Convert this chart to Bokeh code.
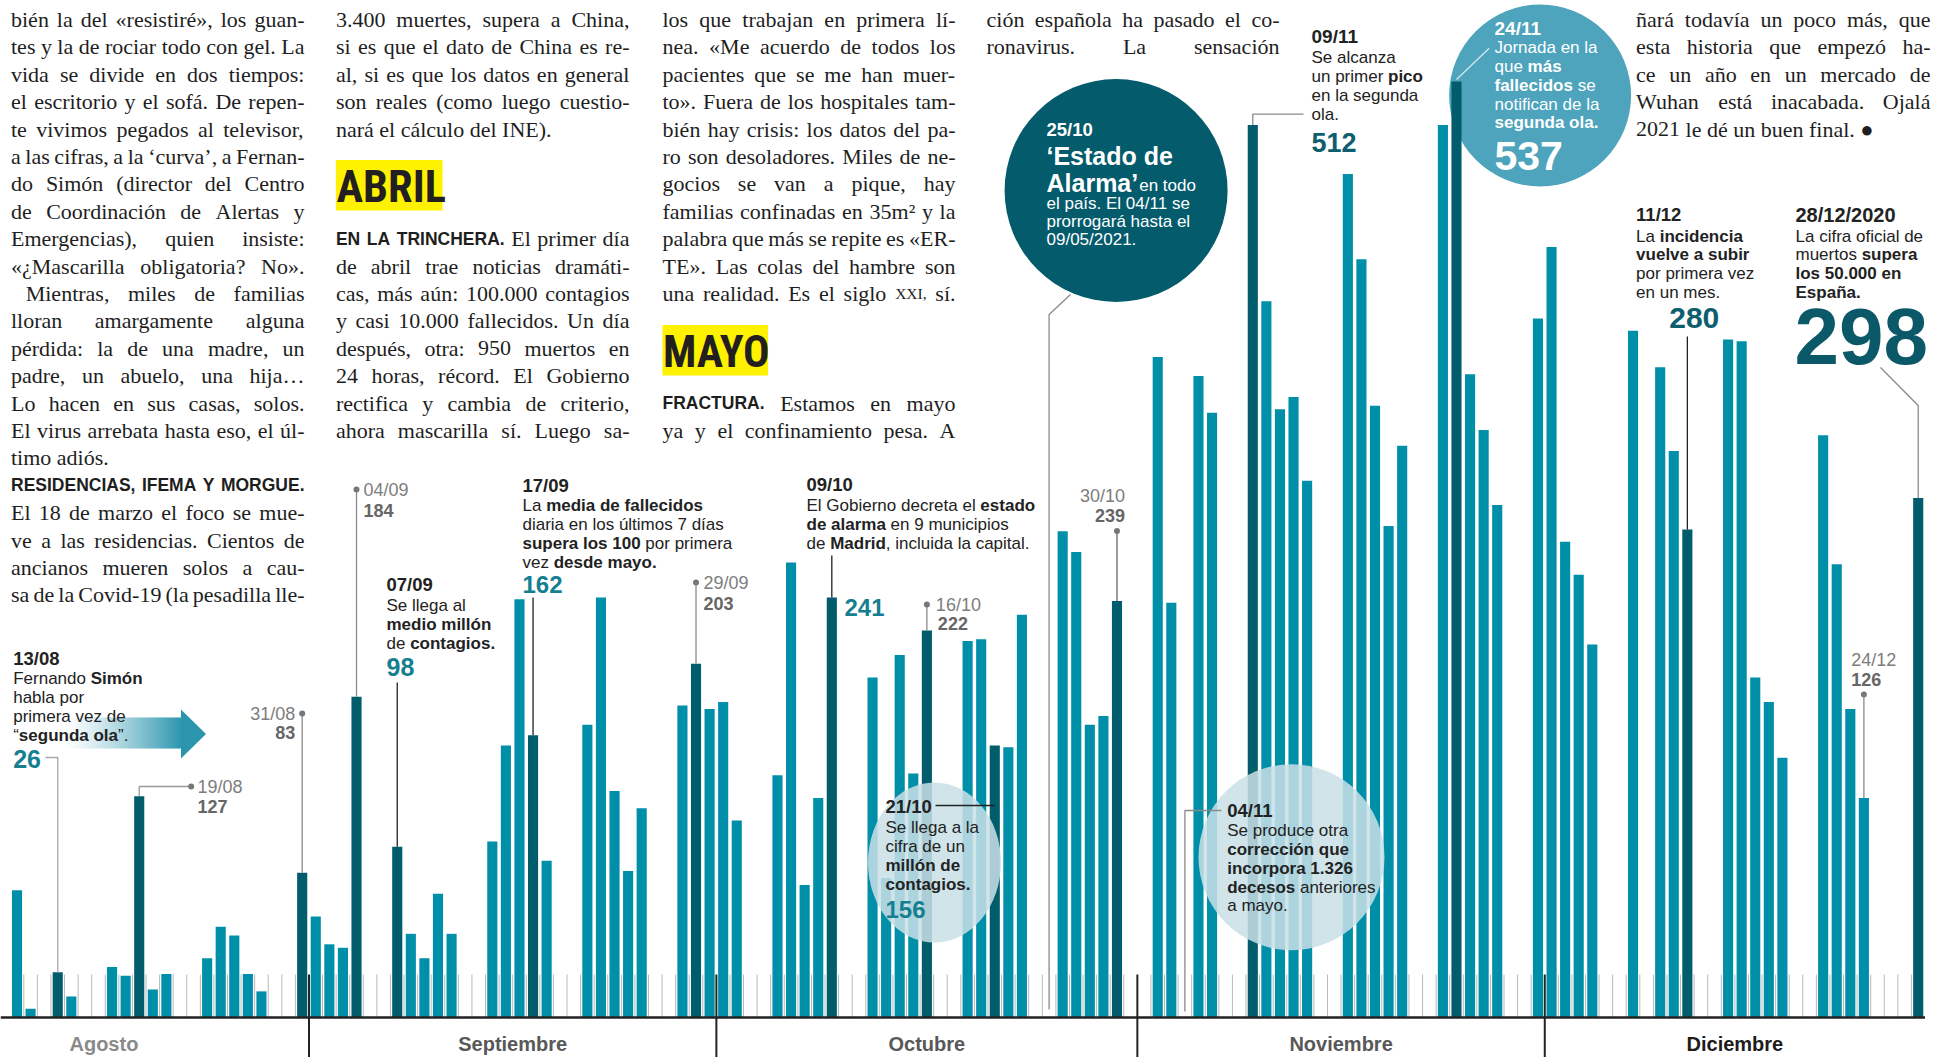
import unicodedata
import pandas as pd
from bokeh.plotting import figure
from bokeh.models import Range1d, ColumnDataSource
from bokeh.core.properties import field
from bokeh.embed import file_html
from bokeh.resources import INLINE

# ---------------------------------------------------------------- DATA
fechas = pd.date_range("2020-08-10", "2020-12-28", freq="D")
fallecidos = [
    # agosto (10-31)
    73, 5, 0, 26, 12, 0, 0, 29, 24, 127, 16, 25, 0, 0, 34, 52, 47, 25, 15, 0, 0, 83,
    # septiembre
    58, 42, 40, 184, 0, 0, 98, 48, 34, 71, 48, 0, 0, 101, 156, 240, 162, 90, 0, 0,
    168, 241, 130, 84, 120, 0, 0, 179, 203, 177,
    # octubre
    181, 113, 0, 0, 139, 261, 76, 126, 241, 0, 0, 195, 80, 208, 140, 222, 0, 0,
    216, 217, 156, 155, 231, 0, 0, 279, 267, 168, 173, 239, 0,
    # noviembre
    0, 379, 238, 0, 368, 347, 0, 0, 512, 411, 349, 356, 308, 0, 0, 484, 435, 351,
    282, 328, 0, 0, 512, 537, 369, 337, 294, 0, 0, 401,
    # diciembre (1-28)
    442, 273, 254, 214, 0, 0, 394, 0, 373, 325, 280, 0, 0, 389, 388, 195, 181, 149,
    0, 0, 334, 260, 177, 126, 0, 0, 0, 298,
]
destacados = ["2020-08-13", "2020-08-19", "2020-08-31", "2020-09-04", "2020-09-07",
              "2020-09-17", "2020-09-29", "2020-10-09", "2020-10-16", "2020-10-21",
              "2020-10-30", "2020-11-09", "2020-11-24", "2020-12-11", "2020-12-28"]
meses = ["Agosto", "Septiembre", "Octubre", "Noviembre", "Diciembre"]
inicio_meses = ["2020-08-01", "2020-09-01", "2020-10-01", "2020-11-01", "2020-12-01"]
fin_meses = ["2020-09-01", "2020-10-01", "2020-11-01", "2020-12-01", "2020-12-29"]
color_meses = ["#8a8a8a", "#585858", "#585858", "#585858", "#1c1c1c"]

# ---------------------------------------------------------------- LAYOUT
W, H, M = 1946, 1057, 0
ORIG, PXD = -112.5, 13.58      # page x = ORIG + day * PXD
BASE, PXV = 1017.0, 1.743      # page y = BASE - deaths * PXV
TEAL, DARK = "#008FA8", "#015C6C"
HL, HL2, HL3 = "#157F91", "#0D5E6E", "#0B5868"
INK, GDATE, GNUM = "#222222", "#7d7d7d", "#666666"
SERIF, SANS = "Liberation Serif", "Liberation Sans"
HEAD = "Roboto Condensed"
BODY = 22

d0 = pd.Timestamp("2020-08-01")
def dia(f):
    return (pd.Timestamp(f) - d0).days
def X(d):
    return ORIG + d * PXD
def Y(v):
    return BASE - v * PXV

claves = list(fechas.strftime("%Y-%m-%d"))
valores = dict(zip(claves, fallecidos))

p = figure(width=W, height=H,
           x_range=Range1d((M - ORIG) / PXD, (M + W - ORIG) / PXD),
           y_range=Range1d((BASE - (M + H)) / PXV, (BASE - M) / PXV),
           x_axis_type=None, y_axis_type=None, output_backend="svg",
           toolbar_location=None, min_border=0)
p.extra_x_ranges = {"px": Range1d(M, M + W)}
p.extra_y_ranges = {"py": Range1d(M + H, M)}
p.outline_line_color = None
p.background_fill_color = "white"
p.border_fill_color = "white"
PX = dict(x_range_name="px", y_range_name="py")

# ---------------------------------------------------------------- metrics
def _t(lo, up, dig, extra):
    t = dict(zip("abcdefghijklmnopqrstuvwxyz", lo))
    t.update(zip("ABCDEFGHIJKLMNOPQRSTUVWXYZ", up))
    t.update({c: dig for c in "0123456789"})
    t.update(extra)
    return t
TIMES = _t([444,500,444,500,444,333,500,500,278,278,500,278,778,500,500,500,500,333,389,278,500,500,722,500,500,444],
           [722,667,667,722,611,556,722,722,333,389,722,611,889,722,722,556,722,667,556,611,722,722,944,722,722,611],
           500, {" ":250, ".":250, ",":250, ":":278, ";":278, "-":333, "(":333, ")":333, "«":500, "»":500,
                 "¿":444, "?":444, "‘":333, "’":333, "“":444, "”":444, "²":300, "●":600, "…":1000, "/":278})
ARIAL = _t([556,556,500,556,556,278,556,556,222,222,500,222,833,556,556,556,556,333,500,278,556,500,722,500,500,500],
           [667,667,722,722,667,611,778,722,278,500,667,556,833,722,778,667,778,722,667,611,722,667,944,667,667,611],
           556, {" ":278, ".":278, ",":278, ":":278, ";":278, "-":333, "(":333, ")":333, "/":278,
                 "‘":222, "’":222, "“":333, "”":333, "?":556})
ARIALB = _t([556,611,556,611,556,333,611,611,278,278,556,278,889,611,611,611,611,389,556,333,611,556,778,556,556,500],
            [722,722,722,722,667,611,778,722,278,556,722,611,833,722,778,667,778,722,667,611,722,667,944,667,667,611],
            556, {" ":278, ".":278, ",":278, ":":333, ";":333, "-":333, "(":333, ")":333, "/":278,
                  "‘":278, "’":278, "“":500, "”":500, "?":611})

def tw(s, tbl, size):
    tot = 0
    for c in s:
        w = tbl.get(c)
        if w is None:
            w = tbl.get(unicodedata.normalize("NFD", c)[0], 556)
        tot += w
    return tot * size / 1000.0

mid_items, body_items = [], []
def put(lst, x, y, text, size, bold, color, font):
    lst.append(dict(x=x, y=y, text=text, font=font, size="%.1fpx" % size,
                    style="bold" if bold else "normal", color=color))

def rich(x, y, segs, size, color=INK, align="left"):
    """segs: (text, bold) or (text, bold, size)"""
    segs = [(s[0], s[1], s[2] if len(s) > 2 else size) for s in segs]
    total = sum(tw(t, ARIALB if b else ARIAL, sz) for t, b, sz in segs)
    if align == "right":
        x -= total
    elif align == "center":
        x -= total / 2
    for t, b, sz in segs:
        tbl = ARIALB if b else ARIAL
        lead = len(t) - len(t.lstrip(" "))
        x += lead * tbl[" "] * sz / 1000.0
        core = t.strip(" ")
        put(mid_items, x, y, core, sz, b, color, SANS)
        x += tw(t.lstrip(" "), tbl, sz)

STY = {"serif": (TIMES, BODY, False, SERIF), "sansb": (ARIALB, 17.5, True, SANS),
       "small": (TIMES, 15.5, False, SERIF)}
def justify(x0, x1, yb, segs, just=True, indent=0):
    if isinstance(segs, str):
        segs = [(segs, "serif")]
    words = []
    for t, st in segs:
        for w in t.split(" "):
            if w:
                words.append((w, st))
    ws = [tw(w, STY[st][0], STY[st][1]) for w, st in words]
    x = x0 + indent
    gap = (x1 - x - sum(ws)) / (len(words) - 1) if (just and len(words) > 1) else 0.25 * BODY
    for (w, st), wd in zip(words, ws):
        tbl, sz, b, font = STY[st]
        put(body_items, x, yb, w, sz, b, "#1e1e1e", font)
        x += wd + gap

lines_x, lines_y, lines_c = [], [], []
def lead(xs, ys, color):
    lines_x.append(xs); lines_y.append(ys); lines_c.append(color)
dots_x, dots_y = [], []

# ---------------------------------------------------------------- background circles
p.ellipse(x=[1115.6], y=[190], width=[223], height=[223], fill_color="#045B6C", line_color=None, **PX)
p.ellipse(x=[1539.6], y=[95], width=[182], height=[182], fill_color="#4DA4BC", line_color=None, **PX)

# gradient arrow (13/08)
AR = (44, 150, 174)
n = 40
xa0, xa1 = 62.0, 181.0
lefts, rights, cols = [], [], []
for k in range(n):
    t = ((k + 0.5) / n) ** 1.3
    c = tuple(int(round(255 + (a - 255) * t)) for a in AR)
    lefts.append(xa0 + (xa1 - xa0) * k / n)
    rights.append(xa0 + (xa1 - xa0) * (k + 1) / n + 0.6)
    cols.append("#%02x%02x%02x" % c)
p.quad(left=lefts, right=rights, top=[717] * n, bottom=[748] * n, fill_color=cols, line_color=None, **PX)
p.patch([180.5, 205.5, 180.5], [709, 733.5, 758], fill_color="#2A95AD", line_color=None, **PX)

# ---------------------------------------------------------------- axis furniture
TICK_H = 43 / PXV
limites = [dia(f) for f in fin_meses[:-1]]
ticks = [dia(f) for f in claves[1:] if dia(f) not in limites]
p.segment(x0=ticks, y0=[0] * len(ticks), x1=ticks, y1=[TICK_H] * len(ticks),
          line_color="#b8b8b8", line_width=1)

# bars
xs = [dia(f) + 0.5 for f in claves]
colors = [DARK if f in destacados else TEAL for f in claves]
src = ColumnDataSource(dict(x=xs, top=fallecidos, color=colors))
p.vbar(x="x", top="top", bottom=0, width=0.745, fill_color="color", line_color=None, source=src)

# translucent highlight circles
p.ellipse(x=[934], y=[862], width=[133], height=[160], fill_color="#C8E0E7", fill_alpha=0.86,
          line_color=None, **PX)
p.ellipse(x=[1291], y=[856.7], width=[186], height=[186], fill_color="#C8E0E7", fill_alpha=0.86,
          line_color=None, **PX)

ybot = p.y_range.start
p.segment(x0=limites, y0=[TICK_H] * 4, x1=limites, y1=[ybot] * 4, line_color="#222222", line_width=2)
p.segment(x0=[p.x_range.start], y0=[0], x1=[dia(fin_meses[-1])], y1=[0], line_color="#222222", line_width=2.5)

# month labels
lab_pos = [15.9] + [(dia(a) + dia(b)) / 2 for a, b in zip(inicio_meses[1:], fin_meses[1:])]
for m, d, c in zip(meses, lab_pos, color_meses):
    rich(X(d), 1043, [(m, True)], 20, c, align="center")

# ---------------------------------------------------------------- annotations
S = 17
def cx(f):
    return X(dia(f) + 0.5)

# 13/08
f = "2020-08-13"
rich(12.7, 658, [("13/08", True)], 18.5)
rich(12.7, 678, [("Fernando ", False), ("Simón", True)], S)
rich(12.7, 697, [("habla por", False)], S)
rich(12.7, 716, [("primera vez de", False)], S)
rich(12.7, 735, [("“", False), ("segunda ola", True), ("”.", False)], S)
rich(12.7, 758, [(str(valores[f]), True)], 25, HL)
lead([45, cx(f), cx(f)], [757, 757, Y(valores[f])], "#a8a8a8")

# 19/08
f = "2020-08-19"
rich(197, 786, [("19/08", False)], 18, GDATE)
rich(197, 806, [(str(valores[f]), True)], 18, GNUM)
lead([190.7, cx(f), cx(f)], [786, 786, Y(valores[f])], "#999999")
dots_x.append(190.7); dots_y.append(786)

# 31/08
f = "2020-08-31"
rich(cx(f) - 7, 713, [("31/08", False)], 18, GDATE, align="right")
rich(cx(f) - 7, 732, [(str(valores[f]), True)], 18, GNUM, align="right")
lead([cx(f), cx(f)], [713, Y(valores[f])], "#8a8a8a")
dots_x.append(cx(f)); dots_y.append(713)

# 04/09
f = "2020-09-04"
rich(cx(f) + 7, 489, [("04/09", False)], 18, GDATE)
rich(cx(f) + 7, 509.5, [(str(valores[f]), True)], 18, GNUM)
lead([cx(f), cx(f)], [489, Y(valores[f])], "#8a8a8a")
dots_x.append(cx(f)); dots_y.append(489)

# 07/09
f = "2020-09-07"
rich(386, 584, [("07/09", True)], 18.5)
rich(386, 605, [("Se llega al", False)], S)
rich(386, 624, [("medio millón", True)], S)
rich(386, 643, [("de ", False), ("contagios.", True)], S)
rich(386, 666, [(str(valores[f]), True)], 25, HL)
lead([cx(f), cx(f)], [682, Y(valores[f])], INK)

# 17/09
f = "2020-09-17"
rich(522, 485, [("17/09", True)], 18.5)
rich(522, 505, [("La ", False), ("media de fallecidos", True)], S)
rich(522, 524, [("diaria en los últimos 7 días", False)], S)
rich(522, 543, [("supera los 100", True), (" por primera", False)], S)
rich(522, 562, [("vez ", False), ("desde mayo.", True)], S)
rich(522, 584, [(str(valores[f]), True)], 24, HL)
lead([cx(f), cx(f)], [597, Y(valores[f])], INK)

# 29/09
f = "2020-09-29"
rich(cx(f) + 7.5, 582, [("29/09", False)], 18, GDATE)
rich(cx(f) + 7.5, 603, [(str(valores[f]), True)], 18, GNUM)
lead([cx(f), cx(f)], [582, Y(valores[f])], "#8a8a8a")
dots_x.append(cx(f)); dots_y.append(582)

# 09/10
f = "2020-10-09"
rich(806, 484, [("09/10", True)], 18.5)
rich(806, 505, [("El Gobierno decreta el ", False), ("estado", True)], S)
rich(806, 524, [("de alarma", True), (" en 9 municipios", False)], S)
rich(806, 543, [("de ", False), ("Madrid", True), (", incluida la capital.", False)], S)
rich(844, 607, [(str(valores[f]), True)], 24, HL)
lead([cx(f), cx(f)], [555, Y(valores[f])], INK)

# 16/10
f = "2020-10-16"
rich(cx(f) + 9, 604, [("16/10", False)], 18, GDATE)
rich(cx(f) + 11, 623, [(str(valores[f]), True)], 18, GNUM)
lead([cx(f), cx(f)], [604, Y(valores[f])], "#8a8a8a")
dots_x.append(cx(f)); dots_y.append(604)

# 21/10
f = "2020-10-21"
rich(885, 806, [("21/10", True)], 18.5)
rich(885, 827, [("Se llega a la", False)], S)
rich(885, 846, [("cifra de un", False)], S)
rich(885, 865, [("millón de", True)], S)
rich(885, 884, [("contagios.", True)], S)
rich(885, 909, [(str(valores[f]), True)], 24, HL)
lead([935, cx(f)], [805, 805], INK)

# 25/10
x25 = cx("2020-10-25")
rich(1046, 129, [("25/10", True)], 18.5, "#ffffff")
rich(1046, 155, [("‘Estado de", True)], 25, "#ffffff")
rich(1046, 182, [("Alarma’", True)], 25, "#ffffff")
rich(1046 + tw("Alarma’", ARIALB, 25) + 1, 185, [("en todo", False)], S, "#ffffff")
rich(1046, 203, [("el país. El 04/11 se", False)], S, "#ffffff")
rich(1046, 221, [("prorrogará hasta el", False)], S, "#ffffff")
rich(1046, 239, [("09/05/2021.", False)], S, "#ffffff")
lead([1070, x25, x25], [294, 314, 1009], "#8a8a8a")

# 30/10
f = "2020-10-30"
rich(cx(f) + 8, 495, [("30/10", False)], 18, GDATE, align="right")
rich(cx(f) + 8, 515, [(str(valores[f]), True)], 18, GNUM, align="right")
lead([cx(f), cx(f)], [530.5, Y(valores[f])], "#666666")
dots_x.append(cx(f)); dots_y.append(530.5)

# 04/11
x04 = cx("2020-11-04")
rich(1226.7, 810, [("04/11", True)], 18.5)
rich(1226.7, 830, [("Se produce otra", False)], S)
rich(1226.7, 849, [("corrección que", True)], S)
rich(1226.7, 868, [("incorpora 1.326", True)], S)
rich(1226.7, 887, [("decesos", True), (" anteriores", False)], S)
rich(1226.7, 905, [("a mayo.", False)], S)
lead([1220.8, x04, x04], [810, 810, 1011], "#8a8a8a")

# 09/11
f = "2020-11-09"
rich(1311, 36, [("09/11", True)], 19)
rich(1311, 57, [("Se alcanza", False)], S)
rich(1311, 76, [("un primer ", False), ("pico", True)], S)
rich(1311, 95, [("en la segunda", False)], S)
rich(1311, 114, [("ola.", False)], S)
rich(1311, 142, [(str(valores[f]), True)], 27, HL2)
lead([1303, cx(f), cx(f)], [113.7, 113.7, Y(valores[f])], "#8a8a8a")

# 24/11
f = "2020-11-24"
rich(1494, 27.5, [("24/11", True)], 19, "#ffffff")
rich(1494, 47, [("Jornada en la", False)], S, "#ffffff")
rich(1494, 66, [("que ", False), ("más", True)], S, "#ffffff")
rich(1494, 85, [("fallecidos", True), (" se", False)], S, "#ffffff")
rich(1494, 104, [("notifican de la", False)], S, "#ffffff")
rich(1494, 122, [("segunda ola.", True)], S, "#ffffff")
rich(1494, 155, [(str(valores[f]), True)], 41, "#ffffff")
lead([1488.7, cx(f)], [47.7, Y(valores[f]) - 2], "#d6e8ee")

# 11/12
f = "2020-12-11"
rich(1635.6, 214, [("11/12", True)], 18.5)
rich(1635.6, 235.5, [("La ", False), ("incidencia", True)], S)
rich(1635.6, 254, [("vuelve a subir", True)], S)
rich(1635.6, 273, [("por primera vez", False)], S)
rich(1635.6, 292, [("en un mes.", False)], S)
rich(1668.7, 317, [(str(valores[f]), True)], 30, HL2)
lead([cx(f), cx(f)], [336, Y(valores[f])], INK)

# 24/12
f = "2020-12-24"
rich(1850.7, 659, [("24/12", False)], 18, GDATE)
rich(1850.7, 679, [(str(valores[f]), True)], 18, GNUM)
lead([cx(f), cx(f)], [694, Y(valores[f])], "#8a8a8a")
dots_x.append(cx(f)); dots_y.append(694)

# 28/12/2020
f = "2020-12-28"
rich(1795, 214, [("28/12/2020", True)], 20)
rich(1795, 235.5, [("La cifra oficial de", False)], S)
rich(1795, 254, [("muertos ", False), ("supera", True)], S)
rich(1795, 273, [("los 50.000 en", True)], S)
rich(1795, 292, [("España.", True)], S)
rich(1794, 336, [(str(valores[f]), True)], 80, HL3)
lead([1880, cx(f), cx(f)], [367, 405, Y(valores[f])], "#8a8a8a")

# ---------------------------------------------------------------- body text columns
def row(i):
    return 19 + 27.4 * (i - 1)

c1 = [
    "bién la del «resistiré», los guan-", "tes y la de rociar todo con gel. La",
    "vida se divide en dos tiempos:", "el escritorio y el sofá. De repen-",
    "te vivimos pegados al televisor,", "a las cifras, a la ‘curva’, a Fernan-",
    "do Simón (director del Centro", "de Coordinación de Alertas y",
    "Emergencias), quien insiste:", "«¿Mascarilla obligatoria? No».",
    "Mientras, miles de familias", "lloran amargamente alguna",
    "pérdida: la de una madre, un", "padre, un abuelo, una hija…",
    "Lo hacen en sus casas, solos.", "El virus arrebata hasta eso, el úl-",
    "timo adiós.", [("RESIDENCIAS, IFEMA Y MORGUE.", "sansb")],
    "El 18 de marzo el foco se mue-", "ve a las residencias. Cientos de",
    "ancianos mueren solos a cau-", "sa de la Covid-19 (la pesadilla lle-",
]
for i, ln in enumerate(c1, start=1):
    justify(10.5, 304, row(i), ln, just=(i != 17), indent=(14.7 if i == 11 else 0))

c2a = ["3.400 muertes, supera a China,", "si es que el dato de China es re-",
       "al, si es que los datos en general", "son reales (como luego cuestio-",
       "nará el cálculo del INE)."]
for i, ln in enumerate(c2a, start=1):
    justify(335.4, 629, row(i), ln, just=(i != 5))
c2b = [[("EN LA TRINCHERA.", "sansb"), ("El primer día", "serif")],
       "de abril trae noticias dramáti-", "cas, más aún: 100.000 contagios",
       "y casi 10.000 fallecidos. Un día", "después, otra: 950 muertos en",
       "24 horas, récord. El Gobierno", "rectifica y cambia de criterio,",
       "ahora mascarilla sí. Luego sa-"]
for i, ln in enumerate(c2b, start=9):
    justify(335.4, 629, row(i), ln)

c3a = ["los que trabajan en primera lí-", "nea. «Me acuerdo de todos los",
       "pacientes que se me han muer-", "to». Fuera de los hospitales tam-",
       "bién hay crisis: los datos del pa-", "ro son desoladores. Miles de ne-",
       "gocios se van a pique, hay", "familias confinadas en 35m² y la",
       "palabra que más se repite es «ER-", "TE». Las colas del hambre son",
       [("una realidad. Es el siglo", "serif"), ("XXI,", "small"), ("sí.", "serif")]]
for i, ln in enumerate(c3a, start=1):
    justify(662, 955, row(i), ln)
c3b = [[("FRACTURA.", "sansb"), ("Estamos en mayo", "serif")], "ya y el confinamiento pesa. A"]
for i, ln in enumerate(c3b, start=15):
    justify(662, 955, row(i), ln)

for i, ln in enumerate(["ción española ha pasado el co-", "ronavirus. La sensación"], start=1):
    justify(986, 1279, row(i), ln)

c5 = ["ñará todavía un poco más, que", "esta historia que empezó ha-",
      "ce un año en un mercado de", "Wuhan está inacabada. Ojalá",
      "2021 le dé un buen final. ●"]
for i, ln in enumerate(c5, start=1):
    justify(1635.6, 1930, row(i), ln, just=(i != 5))

# month headings (ABRIL / MAYO)
p.quad(left=[335.4, 662], right=[442, 767.5], top=[159.5, 324.4], bottom=[210, 375],
       fill_color="#FFF200", line_color=None, **PX)
put(mid_items, 336.0, 186, "ABRIL", 44.5, True, "#231F20", HEAD)
put(mid_items, 662.5, 351, "MAYO", 44, True, "#231F20", HEAD)

# ---------------------------------------------------------------- draw leaders, dots, texts
p.multi_line(xs=lines_x, ys=lines_y, line_color=lines_c, line_width=1.3, **PX)
p.scatter(x=dots_x, y=dots_y, size=6, fill_color="#777777", line_color=None, **PX)

def render(items, baseline):
    cols = {k: [it[k] for it in items] for k in ["x", "y", "text", "font", "size", "style", "color"]}
    s = ColumnDataSource(cols)
    p.text(x="x", y="y", text="text", source=s, text_font=field("font"),
           text_font_size=field("size"), text_font_style=field("style"),
           text_color=field("color"), text_baseline=baseline, text_align="left", **PX)

render(body_items, "alphabetic")
render(mid_items, "middle")

open("out.html", "w").write(file_html(p, INLINE))
